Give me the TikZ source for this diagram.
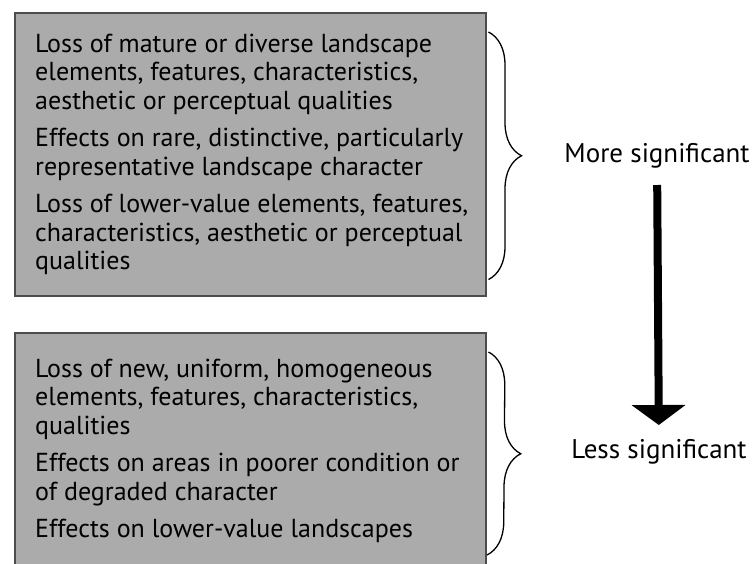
\documentclass[tikz,border=0pt]{standalone}
\usepackage{fontspec}
\setmainfont{PT Sans}
\usetikzlibrary{arrows.meta,decorations.pathreplacing}

\tikzset{
  panel/.style={draw=black!70, line width=1.5pt, fill=black!33, anchor=north west, inner sep=0pt},
  itemtext/.style={anchor=west, align=left, inner sep=0pt, font=\fontsize{26}{28.5}\selectfont},
  label/.style={inner sep=0pt, font=\fontsize{27}{28}\selectfont},
  bracket/.style={decorate, decoration={brace, amplitude=33pt}, line width=1.3pt},
  sigarrow/.style={line width=8pt, -{Triangle[width=53pt,length=20pt]}}
}

\begin{document}
\begin{tikzpicture}[x=1pt,y=-1pt]
		\clip (0,0) rectangle (754,563);
		\fill[white] (0,0) rectangle (754,563);
		
		% Boxes
		\node[panel, minimum width=471pt, minimum height=283pt] (upper) at (14,12) {};
		\node[panel, minimum width=471pt, minimum height=236pt] (lower) at (14,332) {};
		
		% Box texts
		\node[itemtext] (upperText) at ([xshift=21pt]upper.west)
			{Loss of mature or diverse landscape\\
			 elements, features, characteristics,\\
			 aesthetic or perceptual qualities\\[9pt]
			 Effects on rare, distinctive, particularly\\
			 representative landscape character\\[9pt]
			 Loss of lower-value elements, features,\\
			 characteristics, aesthetic or perceptual\\
			 qualities};
		\node[itemtext] (lowerText) at ([xshift=21pt]lower.west)
			{Loss of new, uniform, homogeneous\\
			 elements, features, characteristics,\\
			 qualities\\[9pt]
			 Effects on areas in poorer condition or\\
			 of degraded character\\[9pt]
			 Effects on lower-value landscapes};
		
		% Braces
		\coordinate (upperTop) at ([shift={(2pt,-20pt)}]upper.north east);
		\coordinate (upperBot) at ([shift={(2pt,17pt)}]upper.south east);
		\coordinate (lowerTop) at ([shift={(2pt,-20pt)}]lower.north east);
		\coordinate (lowerBot) at (487,555);
		\draw[bracket] (upperTop) -- (upperBot);
		\draw[bracket] (lowerTop) -- (lowerBot);
		
		% Labels and arrow
		\node[label] (more) at (657,156) {More significant};
		\node[label] (less) at (659,452) {Less significant};
		\draw[sigarrow, shorten <=29pt, shorten >=27pt] (more.center) -- (less.center);
	\end{tikzpicture}
\end{document}
